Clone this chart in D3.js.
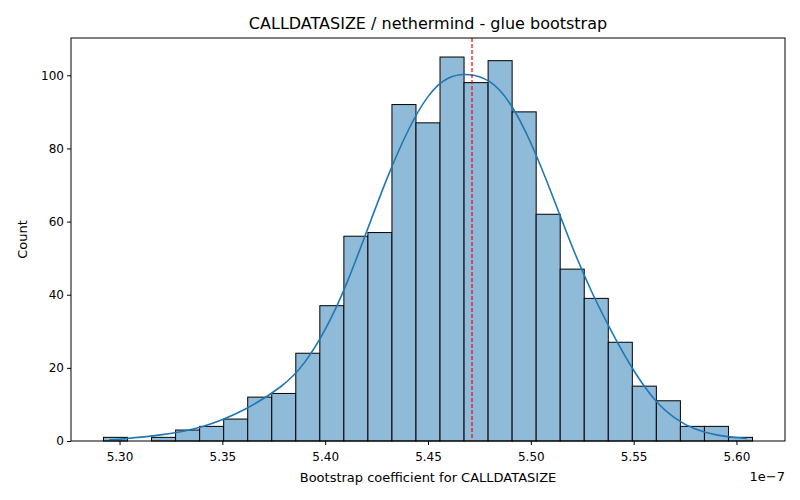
<!DOCTYPE html>
<html><head><meta charset="utf-8">
<script src="https://cdn.jsdelivr.net/npm/d3@7"></script>
<style>body{margin:0;background:#fff}text{font-family:"DejaVu Sans",sans-serif}</style>
</head><body><div id="chart"></div>
<script>
var counts = [1,0,1,3,4,6,12,13,24,37,56,57,92,87,105,98,104,90,62,47,39,27,15,11,4,4,1];
var binStart = 5.2922, binEnd = 5.6078;
var meanValue = 5.4714;
var kdeX = [5.295,5.30,5.32,5.34,5.36,5.38,5.39,5.40,5.41,5.42,5.43,5.44,5.45,5.46,5.47,5.48,5.49,5.50,5.51,5.52,5.53,5.54,5.55,5.56,5.57,5.58,5.59,5.605];
var kdeY = [0.3,0.5,1.5,3.5,8,15,21,30,42,57,72,85,95,100,100.5,99,93,82,68,53,40,29,19,11,6,3,1.5,0.7];
var xTicks = [5.30,5.35,5.40,5.45,5.50,5.55,5.60];
var yTicks = [0,20,40,60,80,100];

var margin = {top: 38, right: 15, bottom: 59, left: 71};
var w = 800 - margin.left - margin.right, h = 500 - margin.top - margin.bottom;
var svg = d3.select("#chart").append("svg").attr("width", 800).attr("height", 500);
var g = svg.append("g").attr("transform", `translate(${margin.left},${margin.top})`);

var x = d3.scaleLinear().domain([5.2764, 5.6236]).range([0, w]);
var y = d3.scaleLinear().domain([0, 110.2]).range([h, 0]);
var bw = (binEnd - binStart) / counts.length;

g.selectAll("rect.bar").data(counts).enter().append("rect")
  .attr("x", (d, i) => x(binStart + i * bw))
  .attr("width", (d, i) => x(binStart + (i + 1) * bw) - x(binStart + i * bw))
  .attr("y", d => y(d)).attr("height", d => h - y(d))
  .attr("fill", "#8fbbd9").attr("stroke", "#000").attr("stroke-width", 1);

var line = d3.line().x(d => x(d[0])).y(d => y(d[1])).curve(d3.curveBasis);
g.append("path").datum(d3.zip(kdeX, kdeY)).attr("d", line)
  .attr("fill", "none").attr("stroke", "#1f77b4").attr("stroke-width", 1.6);

g.append("line").attr("x1", x(meanValue)).attr("x2", x(meanValue)).attr("y1", 0).attr("y2", h)
  .attr("stroke", "red").attr("stroke-width", 1.2).attr("stroke-dasharray", "4,2");

var xa = g.append("g").attr("transform", `translate(0,${h})`)
  .call(d3.axisBottom(x).tickValues(xTicks).tickFormat(d3.format(".2f")).tickSize(4));
var ya = g.append("g").call(d3.axisLeft(y).tickValues(yTicks).tickSize(4));
[xa, ya].forEach(a => { a.select(".domain").remove(); a.selectAll("text").attr("font-size", 12).attr("fill", "#000"); });
xa.selectAll("text").attr("dy", "1.1em");

g.append("rect").attr("width", w).attr("height", h).attr("fill", "none").attr("stroke", "#000").attr("stroke-width", 1);

svg.append("text").attr("x", margin.left + w / 2).attr("y", 29).attr("text-anchor", "middle")
  .attr("font-size", 16).text("CALLDATASIZE / nethermind - glue bootstrap");
svg.append("text").attr("x", margin.left + w / 2).attr("y", 482).attr("text-anchor", "middle")
  .attr("font-size", 13).text("Bootstrap coefficient for CALLDATASIZE");
svg.append("text").attr("transform", `translate(27,${margin.top + h / 2}) rotate(-90)`).attr("text-anchor", "middle")
  .attr("font-size", 13).text("Count");
svg.append("text").attr("x", 785).attr("y", 481).attr("text-anchor", "end").attr("font-size", 13).text("1e\u22127");
</script></body></html>
